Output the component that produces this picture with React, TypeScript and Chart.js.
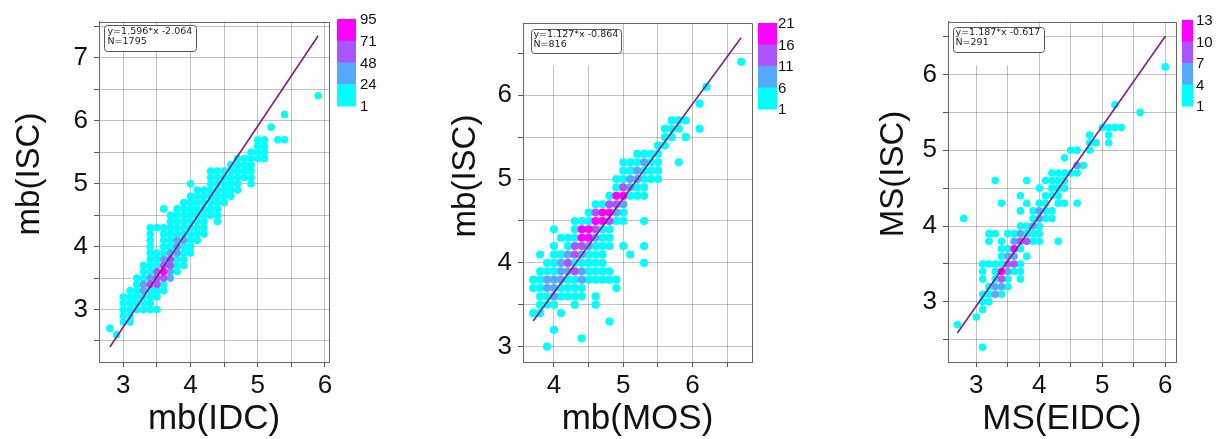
import React, { useEffect, useRef } from "react";
import { Chart, registerables } from "chart.js";
Chart.register(...registerables);

type Row = [number, number[]];
type Hot = [number, number, number];

// ---------- Panel 1: mb(IDC) vs mb(ISC) ----------
const p1Rows: Row[] = [
  [6.4, [5.9]],
  [6.1, [5.4]],
  [5.9, [5.2]],
  [5.7, [5.0, 5.1, 5.3, 5.4]],
  [5.6, [5.0, 5.1]],
  [5.5, [4.9, 5.0, 5.1]],
  [5.4, [4.7, 4.8, 4.9, 5.0, 5.1]],
  [5.3, [4.6, 4.7, 4.8, 4.9]],
  [5.2, [4.3, 4.4, 4.5, 4.6, 4.7, 4.8, 4.9]],
  [5.1, [4.3, 4.4, 4.5, 4.6, 4.7, 4.8, 4.9]],
  [5.0, [4.0, 4.3, 4.4, 4.5, 4.6, 4.7, 4.9]],
  [4.9, [4.1, 4.2, 4.3, 4.4, 4.5, 4.6, 4.7]],
  [4.8, [4.0, 4.1, 4.2, 4.3, 4.4, 4.5, 4.6]],
  [4.7, [3.9, 4.0, 4.1, 4.2, 4.3, 4.4, 4.5]],
  [4.6, [3.6, 3.8, 3.9, 4.0, 4.1, 4.2, 4.3, 4.4]],
  [4.5, [3.7, 3.8, 3.9, 4.0, 4.1, 4.2, 4.3, 4.4]],
  [4.4, [3.7, 3.8, 3.9, 4.0, 4.1, 4.2, 4.4]],
  [4.3, [3.4, 3.5, 3.6, 3.7, 3.8, 3.9, 4.0, 4.1, 4.2]],
  [4.2, [3.4, 3.6, 3.7, 3.8, 3.9, 4.0, 4.1, 4.2]],
  [4.1, [3.4, 3.6, 3.7, 3.8, 3.9, 4.0, 4.1]],
  [4.0, [3.4, 3.6, 3.7, 3.8, 3.9, 4.0]],
  [3.9, [3.4, 3.5, 3.6, 3.7, 3.8, 3.9, 4.0]],
  [3.8, [3.4, 3.5, 3.6, 3.7, 3.8, 3.9]],
  [3.7, [3.3, 3.4, 3.5, 3.6, 3.7, 3.8, 3.9]],
  [3.6, [3.3, 3.4, 3.5, 3.6, 3.7, 3.8]],
  [3.5, [3.2, 3.3, 3.4, 3.5, 3.6, 3.7]],
  [3.4, [3.2, 3.3, 3.4, 3.5, 3.6]],
  [3.3, [3.1, 3.2, 3.3, 3.4, 3.5, 3.6]],
  [3.2, [3.0, 3.1, 3.2, 3.3, 3.4, 3.5]],
  [3.1, [3.0, 3.1, 3.2, 3.3, 3.4]],
  [3.0, [3.0, 3.1, 3.2, 3.3, 3.4, 3.5]],
  [2.9, [3.0, 3.1]],
  [2.8, [3.0, 3.1]],
  [2.7, [2.8]],
  [2.6, [2.9]],
];
const p1Hot: Hot[] = [
  [3.3, 3.3, 1], [3.3, 3.4, 1], [3.4, 3.5, 1], [3.7, 3.6, 1], [3.7, 3.9, 1], [3.8, 3.9, 1],
  [3.8, 4.0, 1], [3.8, 4.1, 1], [3.9, 4.1, 1], [3.7, 3.5, 1], [3.6, 3.8, 1],
  [3.4, 3.4, 2], [3.5, 3.4, 2], [3.5, 3.5, 2], [3.5, 3.6, 2], [3.6, 3.5, 2], [3.6, 3.7, 2],
  [3.7, 3.7, 2], [3.7, 3.8, 2],
  [3.6, 3.6, 3],
];
const p1Line: [number, number][] = [[2.8, 2.405], [5.9, 7.352]];
const p1XTicks = [3, 3.5, 4, 4.5, 5, 5.5, 6];
const p1YTicks = [2.5, 3, 3.5, 4, 4.5, 5, 5.5, 6, 6.5, 7, 7.5];
const p1Bar = ["95", "71", "48", "24", "1"];
const p1Eq = ["y=1.596*x -2.064", "N=1795"];

// ---------- Panel 2: mb(MOS) vs mb(ISC) ----------
const p2Rows: Row[] = [
  [6.4, [6.7]],
  [6.1, [6.2]],
  [5.9, [6.1]],
  [5.7, [5.7, 5.8, 5.9]],
  [5.6, [5.6, 5.7, 5.8, 6.1]],
  [5.5, [5.6, 5.7, 5.9]],
  [5.4, [5.5, 5.6]],
  [5.3, [5.2, 5.3, 5.4, 5.5]],
  [5.2, [5.0, 5.1, 5.2, 5.3, 5.4, 5.5, 5.8]],
  [5.1, [5.0, 5.1, 5.2, 5.3, 5.4, 5.5]],
  [5.0, [4.9, 5.0, 5.1, 5.2, 5.3, 5.4, 5.5]],
  [4.9, [4.9, 5.0, 5.1, 5.2, 5.3]],
  [4.8, [4.8, 4.9, 5.0, 5.1, 5.2, 5.3]],
  [4.7, [4.6, 4.7, 4.8, 4.9, 5.0]],
  [4.6, [4.5, 4.6, 4.7, 4.8, 4.9, 5.0]],
  [4.5, [4.3, 4.4, 4.5, 4.6, 4.7, 4.8, 4.9, 5.0, 5.3]],
  [4.4, [4.0, 4.3, 4.4, 4.5, 4.6, 4.7, 4.8]],
  [4.3, [4.1, 4.2, 4.3, 4.4, 4.5, 4.6, 4.7, 4.8]],
  [4.2, [4.0, 4.2, 4.3, 4.4, 4.5, 4.6, 4.7, 4.8, 5.0, 5.3]],
  [4.1, [3.8, 4.0, 4.1, 4.2, 4.3, 4.4, 4.5, 4.6, 4.7, 5.1]],
  [4.0, [3.9, 4.0, 4.1, 4.2, 4.3, 4.4, 4.5, 4.6, 4.7, 5.3]],
  [3.9, [3.8, 3.9, 4.0, 4.1, 4.2, 4.3, 4.4, 4.5, 4.6, 4.7, 4.8]],
  [3.8, [3.7, 3.8, 3.9, 4.0, 4.1, 4.2, 4.3, 4.4, 4.5, 4.6, 4.7, 4.8, 4.9]],
  [3.7, [3.7, 3.8, 3.9, 4.0, 4.1, 4.2, 4.3, 4.4, 4.9]],
  [3.6, [3.8, 3.9, 4.0, 4.1, 4.2, 4.3, 4.4, 4.6]],
  [3.5, [3.8, 3.9, 4.0, 4.3, 4.6]],
  [3.4, [3.7, 3.8, 4.1]],
  [3.3, [4.8]],
  [3.2, [4.0]],
  [3.1, [4.4]],
  [3.0, [3.9]],
];
const p2Hot: Hot[] = [
  [4.4, 4.3, 3], [4.5, 4.3, 3], [4.4, 4.4, 3], [4.5, 4.4, 3], [4.6, 4.5, 3], [4.7, 4.5, 3],
  [4.7, 4.6, 3], [4.8, 4.6, 3], [4.9, 4.8, 3], [5.0, 4.8, 3],
  [4.3, 4.2, 2], [4.3, 4.1, 2], [4.4, 4.2, 2], [4.2, 4.0, 2], [4.3, 3.9, 2], [4.6, 4.4, 2],
  [4.8, 4.7, 2], [4.9, 4.7, 2], [4.8, 4.5, 2], [5.0, 4.9, 2], [4.6, 4.6, 2],
  [4.0, 3.8, 1], [4.1, 3.8, 1], [4.1, 3.9, 1], [4.0, 3.7, 1], [3.9, 3.7, 1], [4.1, 4.0, 1],
  [4.2, 4.1, 1], [4.2, 3.9, 1], [4.4, 4.1, 1], [4.5, 4.2, 1], [4.6, 4.3, 1], [5.1, 4.9, 1],
  [5.2, 5.0, 1], [5.2, 5.1, 1], [5.3, 5.2, 1], [4.9, 4.6, 1], [5.0, 4.7, 1], [4.4, 3.9, 1],
  [3.9, 3.8, 1], [4.0, 3.6, 1], [4.4, 3.8, 1], [5.1, 5.0, 1],
];
const p2Line: [number, number][] = [[3.7, 3.306], [6.7, 6.687]];
const p2XTicks = [4, 4.5, 5, 5.5, 6, 6.5];
const p2YTicks = [3, 3.5, 4, 4.5, 5, 5.5, 6, 6.5];
const p2Bar = ["21", "16", "11", "6", "1"];
const p2Eq = ["y=1.127*x -0.864", "N=816"];

// ---------- Panel 3: MS(EIDC) vs MS(ISC) ----------
const p3Rows: Row[] = [
  [6.1, [6.0]],
  [5.6, [5.2]],
  [5.5, [5.6]],
  [5.3, [5.0, 5.1, 5.2, 5.3]],
  [5.2, [4.8, 5.1]],
  [5.1, [4.8, 4.9, 5.1]],
  [5.0, [4.5, 4.6, 4.8]],
  [4.9, [4.4]],
  [4.8, [4.6, 4.7]],
  [4.7, [4.2, 4.3, 4.4, 4.5, 4.6]],
  [4.6, [3.3, 3.8, 4.1, 4.2, 4.3, 4.4]],
  [4.5, [4.0, 4.2, 4.3, 4.4]],
  [4.4, [3.7, 4.1, 4.2, 4.3]],
  [4.3, [3.4, 3.8, 4.0, 4.1, 4.3, 4.4, 4.6]],
  [4.2, [3.7, 3.9, 4.0, 4.1, 4.2]],
  [4.1, [2.8, 3.9, 4.0, 4.1, 4.2]],
  [4.0, [3.7, 3.8, 3.9, 4.0]],
  [3.9, [3.2, 3.3, 3.5, 3.6, 3.7, 3.8, 3.9, 4.0]],
  [3.8, [3.2, 3.4, 3.6, 3.7, 3.8, 3.9, 4.0, 4.3]],
  [3.7, [3.4, 3.5, 3.6, 3.7]],
  [3.6, [3.4, 3.5, 3.6, 3.8]],
  [3.5, [3.1, 3.2, 3.3, 3.4, 3.5, 3.6, 3.7]],
  [3.4, [3.1, 3.3, 3.4, 3.5, 3.6, 3.7]],
  [3.3, [3.1, 3.3, 3.4, 3.5, 3.7]],
  [3.2, [3.2, 3.3, 3.4, 3.5]],
  [3.1, [3.1, 3.2, 3.3, 3.4]],
  [3.0, [3.1, 3.2]],
  [2.9, [3.1]],
  [2.8, [3.0]],
  [2.7, [2.7]],
  [2.4, [3.1]],
];
const p3Hot: Hot[] = [
  [3.4, 3.4, 3], [3.6, 3.7, 3],
  [3.4, 3.3, 2], [3.5, 3.5, 2], [3.7, 3.8, 2], [3.8, 3.8, 2], [3.6, 3.5, 2],
  [3.3, 3.2, 1], [3.3, 3.1, 1], [3.4, 3.2, 1], [3.6, 3.8, 1], [3.6, 3.6, 1], [3.5, 3.4, 1],
  [3.9, 4.0, 1], [4.0, 4.1, 1], [4.0, 4.2, 1], [3.7, 3.9, 1], [4.6, 4.8, 1], [3.5, 3.6, 1],
];
const p3Line: [number, number][] = [[2.7, 2.588], [6.0, 6.505]];
const p3XTicks = [3, 3.5, 4, 4.5, 5, 5.5, 6];
const p3YTicks = [2.5, 3, 3.5, 4, 4.5, 5, 5.5, 6, 6.5];
const p3Bar = ["13", "10", "7", "4", "1"];
const p3Eq = ["y=1.187*x -0.617", "N=291"];

// ---------- styling ----------
const CLASS_COLORS = ["#00ffff", "#55aaff", "#aa55ff", "#ff00ff"];
const FONT = "'Liberation Sans', Arial, sans-serif";
const H = 439;

interface PanelCfg {
  left: number; width: number;
  area: { l: number; r: number; t: number; b: number };
  xRange: [number, number]; yRange: [number, number];
  xTicks: number[]; yTicks: number[];
  xTitle: string; yTitle: string; yTitleX: number; yTitleY: number;
  rows: Row[]; hot: Hot[]; line: [number, number][];
  eq: string[]; eqBox: { x: number; y: number; w: number; h: number; tx: number; ty: number };
  cover: { x: number; y: number; w: number; h: number } | null;
  bar: string[]; barBox: { x: number; y: number; w: number; h: number; lx: number };
  radius: number;
}

const panels: PanelCfg[] = [
  {
    left: 0, width: 410, area: { l: 99, r: 329, t: 20, b: 362 },
    xRange: [2.638, 6.061], yRange: [2.166, 7.578], xTicks: p1XTicks, yTicks: p1YTicks,
    xTitle: "mb(IDC)", yTitle: "mb(ISC)", yTitleX: 30, yTitleY: 174,
    rows: p1Rows, hot: p1Hot, line: p1Line, eq: p1Eq,
    eqBox: { x: 104, y: 25, w: 92, h: 26, tx: 107.5, ty: 31.5 }, cover: null,
    bar: p1Bar, barBox: { x: 337, y: 19, w: 19, h: 87, lx: 360 }, radius: 3.8,
  },
  {
    left: 415, width: 405, area: { l: 523, r: 752, t: 23, b: 362 },
    xRange: [3.553, 6.857], yRange: [2.817, 6.863], xTicks: p2XTicks, yTicks: p2YTicks,
    xTitle: "mb(MOS)", yTitle: "mb(ISC)", yTitleX: 466, yTitleY: 176,
    rows: p2Rows, hot: p2Hot, line: p2Line, eq: p2Eq,
    eqBox: { x: 531, y: 29, w: 90, h: 24, tx: 533.5, ty: 34.5 },
    cover: { x: 524, y: 24, w: 82, h: 41 },
    bar: p2Bar, barBox: { x: 758, y: 23, w: 19, h: 86, lx: 778 }, radius: 4.1,
  },
  {
    left: 830, width: 394, area: { l: 948, r: 1176, t: 21, b: 362 },
    xRange: [2.551, 6.17], yRange: [2.206, 6.698], xTicks: p3XTicks, yTicks: p3YTicks,
    xTitle: "MS(EIDC)", yTitle: "MS(ISC)", yTitleX: 894, yTitleY: 174,
    rows: p3Rows, hot: p3Hot, line: p3Line, eq: p3Eq,
    eqBox: { x: 953, y: 27, w: 91, h: 25, tx: 955.5, ty: 32.5 },
    cover: { x: 949, y: 22, w: 82, h: 43 },
    bar: p3Bar, barBox: { x: 1182, y: 20, w: 11, h: 86, lx: 1196 }, radius: 3.8,
  },
];

function groupPoints(rows: Row[], hot: Hot[]) {
  const key = (x: number, y: number) => x.toFixed(1) + "," + y.toFixed(1);
  const cls = new Map<string, number>(hot.map(([x, y, c]) => [key(x, y), c] as [string, number]));
  const groups: { x: number; y: number }[][] = [[], [], [], []];
  rows.forEach(([y, xs]) => xs.forEach((x) => groups[cls.get(key(x, y)) ?? 0].push({ x, y })));
  return groups;
}

function makeConfig(p: PanelCfg): any {
  const groups = groupPoints(p.rows, p.hot);
  const L = p.left;
  const datasets: any[] = groups.map((pts, i) => ({
    type: "scatter",
    data: pts,
    backgroundColor: CLASS_COLORS[i],
    borderWidth: 0,
    pointRadius: p.radius,
    pointHoverRadius: p.radius,
    order: 4 - i + 1,
  }));
  datasets.push({
    type: "line",
    data: p.line.map(([x, y]) => ({ x, y })),
    borderColor: "#7d1f86",
    borderWidth: 1.6,
    pointRadius: 0,
    fill: false,
    order: 0,
  });

  const tickCb = (v: any) => (Number.isInteger(v) ? String(v) : "");
  const gridOpts = { color: "rgba(0,0,0,0.24)", lineWidth: 1, tickLength: 5, tickColor: "#555", drawTicks: true };

  const decor = {
    id: "decor",
    beforeDatasetsDraw(chart: any) {
      const ctx = chart.ctx as CanvasRenderingContext2D;
      ctx.save();
      if (p.cover) {
        ctx.fillStyle = "#ffffff";
        ctx.fillRect(p.cover.x - L, p.cover.y, p.cover.w, p.cover.h);
      }
      const b = p.eqBox;
      ctx.beginPath();
      (ctx as any).roundRect(b.x - L + 0.5, b.y + 0.5, b.w, b.h, 3);
      ctx.fillStyle = "#ffffff";
      ctx.fill();
      ctx.strokeStyle = "#555";
      ctx.lineWidth = 1;
      ctx.stroke();
      ctx.fillStyle = "#222";
      ctx.font = "9.5px 'DejaVu Sans', sans-serif";
      ctx.textAlign = "left";
      ctx.textBaseline = "middle";
      p.eq.forEach((t, i) => ctx.fillText(t, b.tx - L, b.ty + i * 10));
      ctx.restore();
    },
    afterDraw(chart: any) {
      const ctx = chart.ctx as CanvasRenderingContext2D;
      const a = chart.chartArea;
      ctx.save();
      ctx.strokeStyle = "#666";
      ctx.lineWidth = 1;
      ctx.beginPath();
      ctx.moveTo(Math.round(a.left) + 0.5, Math.round(a.top) + 0.5);
      ctx.lineTo(Math.round(a.right) + 0.5, Math.round(a.top) + 0.5);
      ctx.lineTo(Math.round(a.right) + 0.5, Math.round(a.bottom) + 0.5);
      ctx.stroke();
      ctx.save();
      ctx.translate(p.yTitleX - L, p.yTitleY);
      ctx.rotate(-Math.PI / 2);
      ctx.fillStyle = "#111";
      ctx.font = "33px " + FONT;
      ctx.textAlign = "center";
      ctx.textBaseline = "middle";
      ctx.fillText(p.yTitle, 0, 0);
      ctx.restore();
      const bb = p.barBox;
      const n = CLASS_COLORS.length;
      const bh = bb.h / n;
      for (let i = 0; i < n; i++) {
        ctx.fillStyle = CLASS_COLORS[n - 1 - i];
        ctx.fillRect(bb.x - L, bb.y + i * bh, bb.w, bh + 0.5);
      }
      ctx.fillStyle = "#111";
      ctx.font = "15px " + FONT;
      ctx.textAlign = "left";
      ctx.textBaseline = "middle";
      p.bar.forEach((t, i) => ctx.fillText(t, bb.lx - L, bb.y + i * bh + 1));
      ctx.restore();
    },
  };

  return {
    type: "scatter",
    data: { datasets },
    options: {
      animation: false,
      responsive: false,
      maintainAspectRatio: false,
      events: [],
      layout: { padding: { top: p.area.t, right: p.left + p.width - p.area.r, bottom: 0, left: 0 } },
      plugins: { legend: { display: false }, tooltip: { enabled: false } },
      scales: {
        x: {
          type: "linear",
          min: p.xRange[0],
          max: p.xRange[1],
          afterBuildTicks: (s: any) => { s.ticks = p.xTicks.map((v) => ({ value: v })); },
          afterFit: (s: any) => { s.height = H - p.area.b; },
          ticks: { callback: tickCb, autoSkip: false, maxRotation: 0, padding: 3, color: "#111", font: { family: FONT, size: 26 } },
          grid: gridOpts,
          border: { color: "#666", width: 1 },
          title: { display: true, text: p.xTitle, color: "#111", font: { family: FONT, size: 35, lineHeight: 1 }, padding: { top: 0, bottom: 2.5 } },
        },
        y: {
          type: "linear",
          min: p.yRange[0],
          max: p.yRange[1],
          afterBuildTicks: (s: any) => { s.ticks = p.yTicks.map((v) => ({ value: v })); },
          afterFit: (s: any) => { s.width = p.area.l - p.left; },
          ticks: { callback: tickCb, autoSkip: false, padding: 6, color: "#111", font: { family: FONT, size: 26 } },
          grid: gridOpts,
          border: { color: "#666", width: 1 },
          title: { display: false },
        },
      },
    },
    plugins: [decor],
  };
}

function Panel({ cfg }: { cfg: PanelCfg }) {
  const ref = useRef<HTMLCanvasElement>(null);
  useEffect(() => {
    const chart = new Chart(ref.current as HTMLCanvasElement, makeConfig(cfg));
    return () => chart.destroy();
  }, [cfg]);
  return (
    <canvas
      ref={ref}
      width={cfg.width}
      height={H}
      style={{ position: "absolute", left: cfg.left, top: 0, width: cfg.width, height: H }}
    />
  );
}

export default function App() {
  return (
    <div style={{ position: "absolute", left: 0, top: 0, width: 1224, height: H, background: "#fff", overflow: "hidden" }}>
      {panels.map((p, i) => (
        <Panel key={i} cfg={p} />
      ))}
    </div>
  );
}
